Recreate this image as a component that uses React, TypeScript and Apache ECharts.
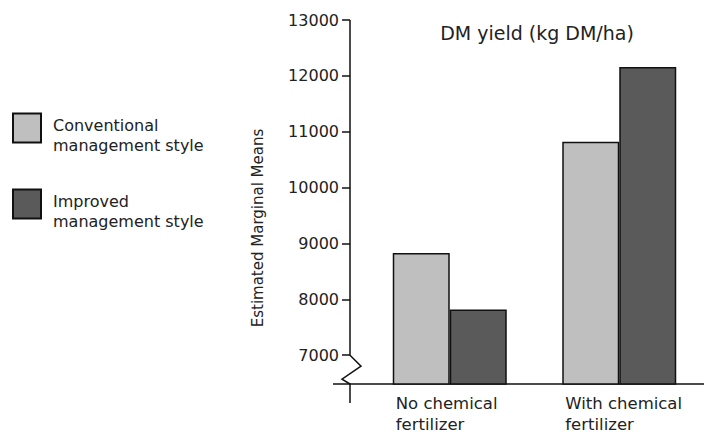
import React, { useEffect, useRef } from "react";
import * as echarts from "echarts";

const categories = ["No chemical\nfertilizer", "With chemical\nfertilizer"];
const seriesNames = ["Conventional management style", "Improved management style"];
const conventional = [8830, 10820];
const improved = [7820, 12160];
const yTicks = [7000, 8000, 9000, 10000, 11000, 12000, 13000];
const yMin = 6485;
const yMax = 13000;
const chartTitle = "DM yield (kg DM/ha)";
const yTitle = "Estimated Marginal Means";

const FONT = "DejaVu Sans";
const TXT = "#222";

export default function App() {
  const ref = useRef<HTMLDivElement>(null);
  useEffect(() => {
    document.body.style.margin = "0";
    const chart = echarts.init(ref.current!, null, { renderer: "svg" });
    const gridLeft = 365;
    const axisOffset = 15;
    chart.setOption({
      animation: false,
      backgroundColor: "#fff",
      textStyle: { fontFamily: FONT },
      grid: { left: gridLeft, right: -17, top: 20, bottom: 46, containLabel: false },
      legend: {
        orient: "vertical",
        left: 12,
        top: 104,
        padding: 0,
        itemWidth: 28,
        itemHeight: 29,
        itemGap: 27,
        icon: "rect",
        data: seriesNames,
        formatter: (n: string) => {
          const parts = n.replace(" management", "\nmanagement").split("\n");
          return "{s| }\n" + parts.map((p) => `{a|${p}}`).join("\n");
        },
        textStyle: {
          fontFamily: FONT,
          fontSize: 16,
          color: TXT,
          padding: [0, 0, 0, 7],
          rich: {
            s: { fontSize: 8, lineHeight: 14 },
            a: { fontFamily: FONT, fontSize: 16, color: TXT, lineHeight: 20 },
          },
        },
      },
      xAxis: {
        type: "category",
        data: categories,
        axisLine: { show: false },
        axisTick: { show: false },
        axisLabel: {
          margin: 9,
          formatter: (v: string) => v.split("\n").map((s) => `{a|${s}}`).join("\n"),
          rich: { a: { width: 108, align: "left", fontFamily: FONT, fontSize: 16.5, color: TXT, lineHeight: 21 } },
        },
      },
      yAxis: {
        type: "value",
        min: yMin,
        max: yMax,
        offset: axisOffset,
        splitLine: { show: false },
        axisLine: { show: false },
        axisTick: { show: true, length: 8, customValues: yTicks, lineStyle: { color: "#111", width: 1.5 } },
        axisLabel: {
          customValues: yTicks,
          margin: 11,
          fontFamily: FONT,
          fontSize: 16,
          color: TXT,
          formatter: (v: number) => String(v),
        },
      },
      series: [
        {
          name: seriesNames[0],
          type: "bar",
          data: conventional,
          barWidth: 57,
          barGap: "0%",
          itemStyle: { color: "#bfbfbf", borderColor: "#111", borderWidth: 1.5 },
        },
        {
          name: seriesNames[1],
          type: "bar",
          data: improved,
          barWidth: 57,
          barGap: "0%",
          itemStyle: { color: "#5a5a5a", borderColor: "#111", borderWidth: 1.5 },
        },
      ],
    });
    const ax = gridLeft - axisOffset;
    const yTop = chart.convertToPixel({ yAxisIndex: 0 }, yMax) as number;
    const y7 = chart.convertToPixel({ yAxisIndex: 0 }, yTicks[0]) as number;
    const yb = chart.convertToPixel({ yAxisIndex: 0 }, yMin) as number;
    const line = { stroke: "#111", lineWidth: 1.5, fill: null };
    chart.setOption({
      graphic: [
        {
          type: "polyline",
          shape: {
            points: [
              [ax, yTop],
              [ax, y7],
              [ax + 11, y7 + 11],
              [ax - 8, y7 + 24],
              [ax, yb],
              [ax, yb + 19],
            ],
          },
          style: line,
          silent: true,
        },
        {
          type: "line",
          shape: { x1: ax - 17, y1: yb, x2: 704, y2: yb },
          style: line,
          silent: true,
        },
        {
          type: "text",
          x: 537,
          y: 33,
          style: { text: chartTitle, fontFamily: FONT, fontSize: 19, fill: TXT, align: "center", verticalAlign: "middle" },
        },
        {
          type: "text",
          x: 258,
          y: 228,
          rotation: Math.PI / 2,
          style: { text: yTitle, fontFamily: FONT, fontSize: 15, fill: TXT, align: "center", verticalAlign: "middle" },
        },
      ],
    });
    return () => chart.dispose();
  }, []);
  return <div ref={ref} style={{ width: 704, height: 433 }} />;
}
